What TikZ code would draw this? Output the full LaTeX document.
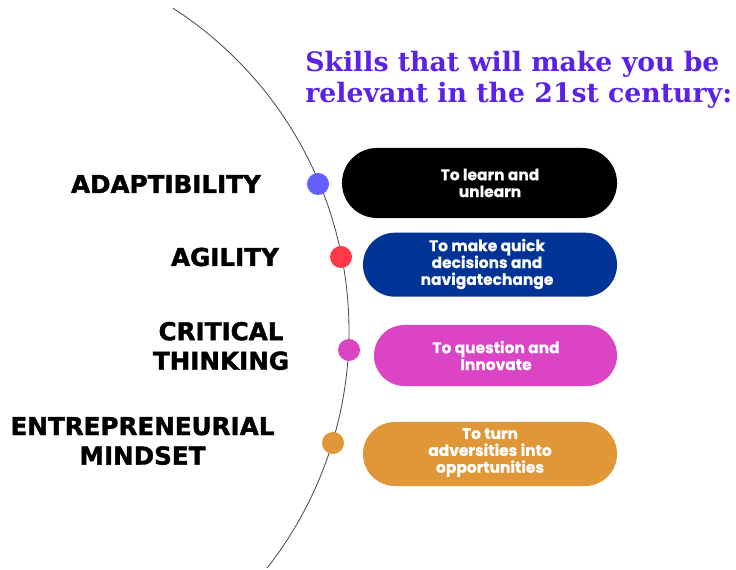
\documentclass[tikz,border=0pt]{standalone}
\usepackage{fontspec}
\usetikzlibrary{shapes.misc}
\newfontfamily\titlefont{DejaVu Serif}
\newfontfamily\skillfont{DejaVu Sans}[BoldFeatures={FakeBold=1.6}]
\newfontfamily\pillfont{Poppins}[BoldFeatures={FakeBold=0.6}]
\definecolor{titlepurple}{RGB}{91,33,230}
\definecolor{dotblue}{RGB}{98,95,255}
\definecolor{dotred}{RGB}{255,57,72}
\definecolor{pillnavy}{RGB}{0,51,150}
\definecolor{pillpink}{RGB}{219,68,197}
\definecolor{pillorange}{RGB}{224,151,56}
\begin{document}
\begin{tikzpicture}[x=0.025cm,y=0.025cm,
  skill/.style={font=\skillfont\bfseries\fontsize{17.5}{21}\selectfont,align=center,inner sep=0pt},
  pill/.style={rounded rectangle,inner sep=0pt},
  pilltext/.style={text=white,font=\pillfont\bfseries\fontsize{11}{12}\selectfont,align=center,inner sep=0pt},
  dot/.style={circle,inner sep=0pt,minimum size=0.55cm}]
\useasboundingbox (0,0) rectangle (736,570);

% title
\node[anchor=base west,inner sep=0pt,text=titlepurple,font=\titlefont\bfseries\fontsize{19}{22}\selectfont] (title) at (305,498) {Skills that will make you be};
\node[anchor=base west,inner sep=0pt,text=titlepurple,font=\titlefont\bfseries\fontsize{19}{22}\selectfont] (title2) at (305,467) {relevant in the 21st century:};

% the arc
\coordinate (c) at (-35,239);
\path[draw,line width=0.6pt,gray!60!black] (c) ++(57.2:384) arc[start angle=57.2,end angle=-38.1,radius=384];

% dots on the arc
\node[dot,fill=dotblue] (d1) at (318,386) {};
\node[dot,fill=dotred] (d2) at (341,313) {};
\node[dot,fill=pillpink] (d3) at (349,220) {};
\node[dot,fill=pillorange] (d4) at (333,127) {};

% skills
\node[skill] (s1) at (166,386) {ADAPTIBILITY};
\node[skill] (s2) at (225,313) {AGILITY};
\node[skill] (s3) at (221,224) {CRITICAL\\THINKING};
\node[skill] (s4) at (142.5,129) {ENTREPRENEURIAL\\MINDSET};

% pills
\node[pill,fill=black,minimum width=6.875cm,minimum height=1.75cm] (p1) at (479.5,387) {};
\node[pill,fill=pillnavy,minimum width=6.35cm,minimum height=1.6cm] (p2) at (490,305.3) {};
\node[pill,fill=pillpink,minimum width=6.075cm,minimum height=1.525cm] (p3) at (495.5,214.5) {};
\node[pill,fill=pillorange,minimum width=6.35cm,minimum height=1.6cm] (p4) at (490,116) {};

\node[pilltext] (t1) at (490,387) {To learn and\\unlearn};
\node[pilltext] (t2) at (487,306) {To make quick\\decisions and\\navigatechange};
\node[pilltext] (t3) at (496,214.5) {To question and\\Innovate};
\node[pilltext] (t4) at (490,117.5) {To turn\\adversities into\\opportunities};
\end{tikzpicture}
\end{document}
